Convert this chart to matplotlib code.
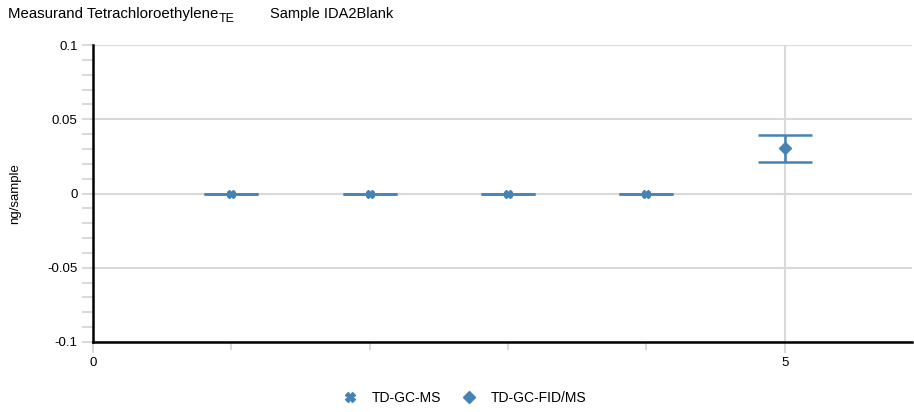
import matplotlib
matplotlib.use('Agg')
import matplotlib.pyplot as plt
from matplotlib.ticker import MultipleLocator, FixedLocator
from matplotlib.lines import Line2D

plt.rcParams['font.family'] = ['Liberation Sans', 'DejaVu Sans']

# data
ms_x = [1, 2, 3, 4]
ms_y = [0.0, 0.0, 0.0, 0.0]
ms_err = [0.0, 0.0, 0.0, 0.0]
fid_x = [5]
fid_y = [0.0304]
fid_err = [0.0092]

BLUE = '#4682B4'
GRID = '#d9d9d9'

fig = plt.figure(figsize=(9.14, 4.12), dpi=100)
ax = fig.add_axes([93/914, 1 - 342/412, (912-93)/914, (342-45)/412])

ax.errorbar(ms_x, ms_y, yerr=ms_err, fmt='X', color=BLUE, ms=6, capsize=19.5,
            capthick=1.8, elinewidth=1.8, zorder=3)
ax.errorbar(fid_x, fid_y, yerr=fid_err, fmt='D', color=BLUE, ms=6, capsize=19.5,
            capthick=1.8, elinewidth=1.8, zorder=3)

ax.set_xlim(0, 5.92)
ax.set_ylim(-0.1, 0.1)
ax.xaxis.set_major_locator(FixedLocator([0, 5]))
ax.xaxis.set_minor_locator(FixedLocator([1, 2, 3, 4]))
ax.yaxis.set_major_locator(MultipleLocator(0.05))
ax.yaxis.set_minor_locator(MultipleLocator(0.01))
ax.set_xticklabels(['0', '5'])
ax.set_yticks([-0.1, -0.05, 0, 0.05, 0.1])
ax.set_yticklabels(['-0.1', '-0.05', '0', '0.05', '0.1'])

ax.grid(True, which='major', color=GRID, lw=1.5)
ax.set_axisbelow(True)
for s in ['top', 'right']:
    ax.spines[s].set_visible(False)
ax.spines['left'].set_linewidth(1.8)
ax.spines['bottom'].set_linewidth(1.8)
ax.tick_params(axis='both', which='major', color=GRID, width=1.5, length=8,
               labelsize=9.5, pad=3)
ax.tick_params(axis='y', which='minor', color=GRID, width=1.5, length=8)
ax.tick_params(axis='x', which='minor', color=GRID, width=1.5, length=6)

ax.set_ylabel('ng/sample', fontsize=9.5)
ax.yaxis.set_label_coords(-72/819, 0.5)

fig.text(8/914, 1 - 14/412, 'Measurand Tetrachloroethylene',
         fontsize=10.8, va='center', ha='left')
fig.text(219/914, 1 - 19/412, 'TE', fontsize=9, va='center', ha='left')
fig.text(270/914, 1 - 14/412, 'Sample IDA2Blank', fontsize=10.5,
         va='center', ha='left')

handles = [Line2D([], [], ls='none', marker='X', ms=7, color=BLUE, label='TD-GC-MS'),
           Line2D([], [], ls='none', marker='D', ms=6, color=BLUE, label='TD-GC-FID/MS')]
fig.legend(handles=handles, loc='center', bbox_to_anchor=(0.5 + 7/914, 1 - 398/412),
           ncol=2, frameon=False, fontsize=10, handletextpad=1.0, columnspacing=1.4,
           handlelength=1.2)

fig.savefig('out.png', dpi=100)
